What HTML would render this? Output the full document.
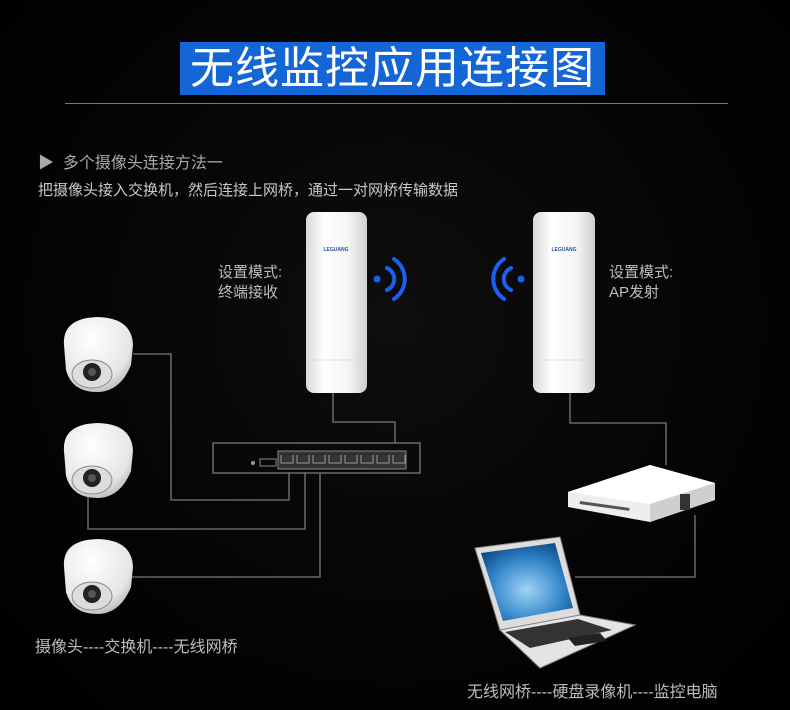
<!DOCTYPE html>
<html><head><meta charset="utf-8"><style>
body{margin:0;width:790px;height:710px;background:#000;overflow:hidden;position:relative;font-family:"Liberation Sans","Noto Sans CJK SC",sans-serif}
.t{position:absolute;color:#bcbcbc;white-space:nowrap}
</style></head><body>
<div style="position:absolute;left:0;top:0;width:790px;height:710px;background:radial-gradient(ellipse at 50% 45%,#0e0e0e 0%,#040404 60%,#000 100%)"></div>
<div style="position:absolute;left:180px;top:42px;width:425px;height:53px;background:#1466d6"></div>
<div class="t" style="left:180px;top:42px;width:425px;height:53px;line-height:53px;text-align:center;color:#fff;font-size:44px;letter-spacing:1px">无线监控应用连接图</div>
<div style="position:absolute;left:65px;top:103px;width:663px;height:1px;background:#777"></div>
<div class="t" style="left:38px;top:149px;font-size:16px;color:#aaa">▶&nbsp;&nbsp;多个摄像头连接方法一</div>
<div class="t" style="left:38px;top:179px;font-size:15px;color:#c8c8c8">把摄像头接入交换机，然后连接上网桥，通过一对网桥传输数据</div>
<div class="t" style="left:218px;top:263px;font-size:15px;line-height:20px">设置模式:<br>终端接收</div>
<div class="t" style="left:609px;top:263px;font-size:15px;line-height:20px">设置模式:<br>AP发射</div>
<div class="t" style="left:35px;top:633px;font-size:16px">摄像头----交换机----无线网桥</div>
<div class="t" style="left:467px;top:678px;font-size:16px">无线网桥----硬盘录像机----监控电脑</div>
<svg width="790" height="710" style="position:absolute;left:0;top:0">
<defs>
<linearGradient id="br" x1="0" x2="1"><stop offset="0" stop-color="#d8d8d8"/><stop offset=".3" stop-color="#fff"/><stop offset=".7" stop-color="#f4f4f4"/><stop offset="1" stop-color="#cfcfcf"/></linearGradient>
<radialGradient id="scr" cx=".5" cy=".6" r=".7"><stop offset="0" stop-color="#9fd4f8"/><stop offset=".6" stop-color="#2d7fc4"/><stop offset="1" stop-color="#0b3f7a"/></radialGradient>
<radialGradient id="cam" cx=".4" cy=".3" r=".8"><stop offset="0" stop-color="#fff"/><stop offset=".7" stop-color="#e6e6e6"/><stop offset="1" stop-color="#aaa"/></radialGradient>
</defs>
<g fill="none" stroke="#7a7a7a" stroke-width="1.3">
<path d="M133 354H171V500H289V473"/>
<path d="M88 490V529H305V473"/>
<path d="M130 577H320V473"/>
<path d="M333 393V422H395V443"/>
<path d="M570 393V423H666V465"/>
<path d="M695 515V577H575"/>
<rect x="213" y="443" width="207" height="30"/>
</g>
<rect x="278" y="451" width="128" height="18" fill="#333" stroke="#888"/>
<g fill="none" stroke="#999">
<path d="M281 455v8h12v-8M297 455v8h12v-8M313 455v8h12v-8M329 455v8h12v-8M345 455v8h12v-8M361 455v8h12v-8M377 455v8h12v-8M393 455v8h12v-8"/>
</g>
<circle cx="253" cy="463" r="2" fill="#999"/><rect x="260" y="459" width="16" height="7" fill="none" stroke="#888"/>
<rect x="306" y="212" width="61" height="181" rx="8" fill="url(#br)"/>
<line x1="307" y1="360" x2="366" y2="360" stroke="#ddd"/>
<text x="336" y="251" font-size="5" fill="#2450a0" text-anchor="middle" font-family="Liberation Sans" font-weight="bold">LEGUANG</text>
<rect x="533" y="212" width="62" height="181" rx="8" fill="url(#br)"/>
<line x1="534" y1="360" x2="594" y2="360" stroke="#ddd"/>
<text x="564" y="251" font-size="5" fill="#2450a0" text-anchor="middle" font-family="Liberation Sans" font-weight="bold">LEGUANG</text>
<g fill="none" stroke="#1a5ff0" stroke-width="4" stroke-linecap="round">
<path d="M387 268a12 12 0 0 1 0 22"/><path d="M394 259a24 24 0 0 1 0 40"/>
<path d="M511 268a12 12 0 0 0 0 22"/><path d="M504 259a24 24 0 0 0 0 40"/>
</g>
<circle cx="377" cy="279" r="3.5" fill="#1a5ff0"/><circle cx="521" cy="279" r="3.5" fill="#1a5ff0"/>
<g id="c1">
<path d="M64 345Q62 318 98 317Q132 318 133 345L131 365Q120 392 97 392Q72 392 66 370Z" fill="url(#cam)"/>
<ellipse cx="92" cy="374" rx="20" ry="14" fill="#ddd" stroke="#888"/>
<circle cx="92" cy="372" r="9" fill="#222"/><circle cx="92" cy="372" r="4" fill="#555"/>
</g>
<use href="#c1" y="106"/>
<use href="#c1" y="222"/>
<path d="M568 492L650 465L715 483V500L650 522L568 507Z" fill="#eee"/>
<path d="M568 492L650 465L715 483L650 504Z" fill="#fff"/>
<path d="M650 504V522L715 500V483Z" fill="#cfcfcf"/>
<rect x="580" y="501" width="50" height="3" fill="#555" transform="rotate(8 580 501)"/>
<rect x="680" y="494" width="10" height="16" fill="#333"/>
<path d="M475 548L560 537L580 615L500 630Z" fill="#ddd" stroke="#888"/>
<path d="M481 553L555 543L573 608L503 621Z" fill="url(#scr)"/>
<path d="M500 630L580 615L635 625L540 668Z" fill="#e4e4e4" stroke="#888"/>
<path d="M505 632L578 619L612 630L530 648Z" fill="#333"/>
<path d="M568 638L600 633L607 641L575 646Z" fill="#222"/>
</svg>
</body></html>
